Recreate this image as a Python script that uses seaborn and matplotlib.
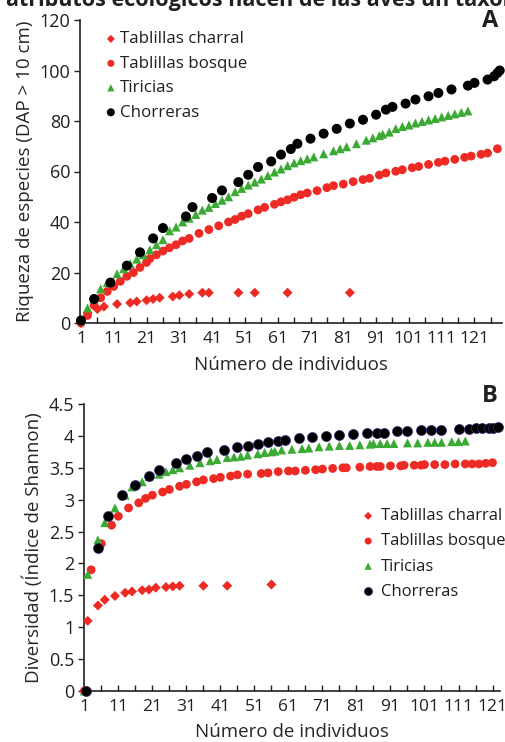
import numpy as np
import pandas as pd
import matplotlib
matplotlib.use("Agg")
import matplotlib.pyplot as plt
import seaborn as sns
from matplotlib.ticker import MultipleLocator, FixedLocator, FuncFormatter

# ---- datos panel A: riqueza de especies ----
charral_a_x = [1, 3, 6, 8, 12, 16, 18, 21, 23, 25, 29, 31, 34, 38, 40, 49, 54, 64, 83]
charral_a_y = [0, 4, 5.5, 6.5, 7.5, 8, 8.5, 9, 9.5, 10, 10.5, 11, 11.5, 12, 12, 12, 12, 12, 12]

bosque_a_x = [1, 3, 5, 7, 9, 11, 13, 15, 17, 19, 21, 22, 24, 26, 28, 30, 32, 34, 37, 40,
              43, 46, 48, 50, 52, 55, 57, 60, 62, 64, 66, 68, 70, 73, 76, 78, 81, 84, 87, 89,
              92, 94, 97, 99, 102, 104, 107, 110, 112, 115, 118, 120, 123, 125, 128]
bosque_a_y = [0, 3, 7, 10, 12.5, 14.5, 16.5, 18.5, 20, 22, 24, 25.5, 27, 28.5, 29.8, 31, 32.5, 33.5, 35.5, 37,
              38.5, 40, 41, 42.3, 43.3, 44.8, 45.8, 47, 48, 48.8, 49.8, 50.8, 51.5, 52.4, 53.6, 54.4, 55, 56, 56.8, 57.3,
              58.6, 59.4, 60.1, 60.7, 61.5, 62, 62.8, 63.6, 64.1, 64.8, 65.6, 66.1, 66.8, 67.3, 69]

tiricias_a_x = [1, 3, 5, 7, 9, 12, 14, 16, 18, 20, 22, 24, 26, 28, 30, 32, 34, 36, 38, 40,
                42, 44, 46, 48, 50, 52, 54, 56, 58, 60, 62, 64, 66, 68, 70, 72, 75, 78, 80, 82,
                85, 88, 90, 92, 93, 95, 97, 99, 101, 103, 105, 107, 109, 111, 113, 115, 117, 119]
tiricias_a_y = [1, 6, 9.5, 13.5, 16, 19.5, 21.5, 23.5, 25.3, 27, 29, 31, 33, 36.5, 38, 40, 41.5, 43, 44.7, 45.8,
                47.3, 48.6, 50, 52, 53.3, 54.6, 55.8, 57, 58.4, 59.8, 61, 62.3, 63.4, 64.3, 65, 65.8, 67, 68.2, 69, 69.8,
                71, 72.4, 73.3, 74.2, 74.8, 75.6, 77, 77.8, 78.4, 79.2, 79.8, 80.4, 81, 81.6, 82.2, 82.8, 83.4, 84]

chorreras_a_x = [1, 5, 10, 15, 19, 23, 26, 33, 35, 41, 44, 49, 52, 55, 59, 62, 65, 67, 71, 75,
                 79, 83, 87, 91, 94, 96, 100, 103, 107, 110, 114, 119, 121, 125, 127, 128, 128.7]
chorreras_a_y = [1, 9.5, 16, 22.7, 28, 33.5, 37.6, 42.2, 45.9, 49.5, 52.5, 55.8, 58.7, 61.8, 64, 66.7, 68.9, 71, 73, 75,
                 76.9, 79, 80.5, 82.5, 84.5, 85.6, 86.9, 88.5, 89.8, 91.1, 92.5, 94, 95.1, 96.4, 97.7, 99, 100]

# ---- datos panel B: diversidad (Shannon) ----
charral_b_x = [1, 2, 5, 7, 10, 13, 15, 18, 20, 22, 25, 27, 29, 36, 43, 56]
charral_b_y = [0, 1.1, 1.34, 1.43, 1.49, 1.54, 1.56, 1.58, 1.59, 1.62, 1.63, 1.64, 1.65, 1.65, 1.65, 1.67]

bosque_b_x = [1, 3, 6, 9, 11, 14, 17, 19, 21, 24, 26, 29, 31, 34, 36, 39, 41, 44, 46, 49,
              53, 55, 58, 61, 63, 66, 69, 71, 74, 77, 78, 82, 85, 87, 88, 91, 94, 95, 98, 100,
              101, 104, 107, 110, 113, 115, 117, 119, 121]
bosque_b_y = [0, 1.9, 2.31, 2.6, 2.74, 2.87, 2.95, 3.02, 3.07, 3.12, 3.16, 3.21, 3.24, 3.28, 3.31, 3.33, 3.35, 3.37, 3.39, 3.40,
              3.41, 3.42, 3.44, 3.45, 3.45, 3.46, 3.47, 3.48, 3.49, 3.50, 3.50, 3.51, 3.52, 3.52, 3.52, 3.53, 3.53, 3.54, 3.54, 3.54,
              3.55, 3.55, 3.55, 3.56, 3.56, 3.56, 3.56, 3.57, 3.58]

tiricias_b_x = [1, 2, 5, 7, 10, 13, 15, 18, 20, 23, 25, 27, 29, 32, 35, 38, 40, 43, 45, 47,
                49, 52, 54, 56, 57, 59, 62, 65, 67, 70, 73, 76, 79, 82, 85, 86, 88, 90, 92, 96,
                99, 102, 104, 106, 109, 111, 113]
tiricias_b_y = [0, 1.83, 2.37, 2.64, 2.87, 3.07, 3.2, 3.28, 3.36, 3.40, 3.44, 3.47, 3.5, 3.54, 3.58, 3.61, 3.63, 3.66, 3.67, 3.68,
                3.70, 3.72, 3.74, 3.75, 3.76, 3.78, 3.79, 3.80, 3.81, 3.83, 3.84, 3.85, 3.85, 3.86, 3.87, 3.88, 3.88, 3.88, 3.88, 3.89,
                3.89, 3.90, 3.90, 3.90, 3.91, 3.91, 3.92]

chorreras_b_x = [1.5, 5, 8, 12, 16, 20, 23, 28, 31, 34, 37, 42, 46, 49, 52, 55, 58, 60, 64, 68,
                 72, 76, 80, 84, 87, 89, 93, 96, 100, 103, 106, 111, 114, 116, 118, 120, 121, 122.5]
chorreras_b_y = [0, 2.25, 2.75, 3.07, 3.23, 3.37, 3.47, 3.57, 3.63, 3.68, 3.75, 3.78, 3.82, 3.84, 3.88, 3.91, 3.92, 3.93, 3.96, 3.99,
                 4.0, 4.01, 4.03, 4.04, 4.05, 4.05, 4.07, 4.08, 4.09, 4.10, 4.10, 4.11, 4.11, 4.12, 4.12, 4.13, 4.13, 4.14]

nombres = ["Tablillas charral", "Tablillas bosque", "Tiricias", "Chorreras"]
ticks_x = [1, 11, 21, 31, 41, 51, 61, 71, 81, 91, 101, 111, 121]

rojo = "#ee2a24"
verde = "#3aaa35"
negro = "#000000"

sns.set_style("ticks")
plt.rcParams["font.family"] = ["Open Sans", "DejaVu Sans"]
plt.rcParams["axes.edgecolor"] = "#231f20"
plt.rcParams["xtick.color"] = "#231f20"
plt.rcParams["ytick.color"] = "#231f20"
plt.rcParams["text.color"] = "#231f20"

fig = plt.figure(figsize=(5.06, 7.42), dpi=100)
ax1 = fig.add_axes([80 / 506, 1 - 323 / 742, 422 / 506, 303 / 742])
ax2 = fig.add_axes([84 / 506, 1 - 691 / 742, 416 / 506, 287 / 742])


def dibuja(ax, series, edge_negro):
    estilos = [("D", rojo, 26, "none"), ("o", rojo, 40, "none"),
               ("^", verde, 42, "none"), ("o", negro, 52, edge_negro)]
    for (x, y), nombre, (m, c, s, ec) in zip(series, nombres, estilos):
        sns.scatterplot(x=x, y=y, ax=ax, marker=m, color=c, s=s, label=nombre,
                        edgecolor=ec, linewidth=0.5 if ec != "none" else 0,
                        clip_on=False, zorder=3)


dibuja(ax1, [(charral_a_x, charral_a_y), (bosque_a_x, bosque_a_y),
             (tiricias_a_x, tiricias_a_y), (chorreras_a_x, chorreras_a_y)], "none")
dibuja(ax2, [(charral_b_x, charral_b_y), (bosque_b_x, bosque_b_y),
             (tiricias_b_x, tiricias_b_y), (chorreras_b_x, chorreras_b_y)], "#3b2a7a")

ax1.set_xlim(0.7, 129.4)
ax1.set_ylim(0, 120)
ax1.yaxis.set_major_locator(MultipleLocator(20))
ax2.set_xlim(0.9, 123.2)
ax2.set_ylim(0, 4.5)
ax2.yaxis.set_major_locator(MultipleLocator(0.5))
ax2.yaxis.set_major_formatter(FuncFormatter(lambda v, p: f"{v:g}"))

for ax, lp in ((ax1, 6), (ax2, 5.5)):
    sns.despine(ax=ax)
    ax.xaxis.set_major_locator(FixedLocator(ticks_x))
    ax.xaxis.set_minor_locator(FixedLocator([t + 5 for t in ticks_x]))
    ax.tick_params(axis="x", which="both", direction="in", length=4, width=1, labelsize=12.5, pad=6)
    ax.tick_params(axis="y", direction="out", length=4, width=1, labelsize=13, pad=3)
    for sp in ax.spines.values():
        sp.set_linewidth(1.2)
    ax.set_xlabel("Número de individuos", fontsize=13.5, labelpad=lp)

ax1.set_ylabel("Riqueza de especies (DAP > 10 cm)", fontsize=13.5, labelpad=4)
ax2.set_ylabel("Diversidad (Índice de Shannon)", fontsize=13.5, labelpad=4)

ax1.legend(loc="upper left", bbox_to_anchor=(0.045, 0.985), frameon=False, fontsize=12.2,
           handlelength=0.6, handletextpad=0.25, labelspacing=0.5, markerscale=0.8,
           borderaxespad=0)
ax2.legend(loc="upper left", bbox_to_anchor=(0.655, 0.66), frameon=False, fontsize=12,
           handlelength=0.6, handletextpad=0.45, labelspacing=0.55, markerscale=0.8,
           borderaxespad=0)

fig.text(490 / 506, 1 - 21 / 742, "A", fontsize=17, fontweight="bold", ha="center", va="center")
fig.text(490 / 506, 1 - 396 / 742, "B", fontsize=17, fontweight="bold", ha="center", va="center")
# línea de texto del documento, cortada en el borde superior
fig.text(6 / 506, 1 - 6 / 742, "atributos ecológicos hacen de las aves un taxón",
         fontsize=15.5, fontweight="bold", ha="left", va="baseline")

fig.savefig("out.png", dpi=100)
